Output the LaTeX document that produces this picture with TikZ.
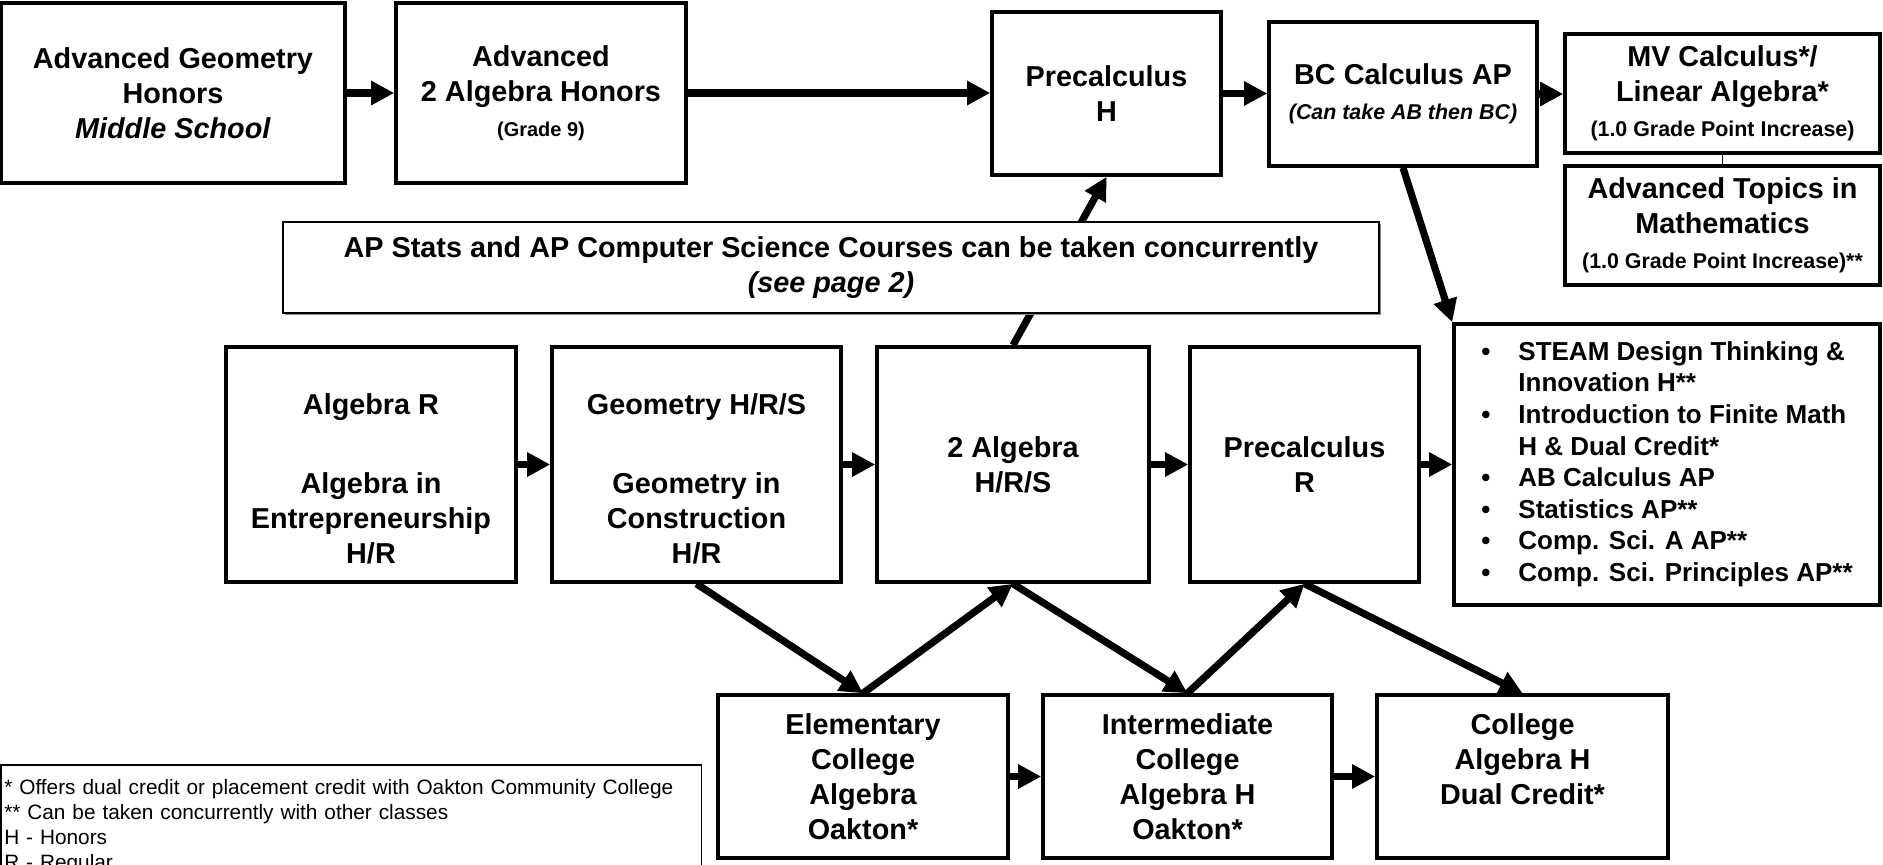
\documentclass[tikz,border=0pt]{standalone}
\usepackage{fontspec}
\setmainfont{Liberation Sans}
\usetikzlibrary{arrows.meta,shadows}

\newcommand{\subfnt}{\fontsize{10.7}{13}\selectfont}
\newcommand{\gradefnt}{\fontsize{10}{12}\selectfont}

\tikzset{
  course/.style={draw, line width=1.8pt, fill=white, align=center, inner sep=2pt,
    font=\bfseries\fontsize{14.4}{17.5}\selectfont},
  notebox/.style={course, line width=1.2pt,
    drop shadow={shadow xshift=1.2pt, shadow yshift=-1.2pt, fill=black!45, opacity=1}},
  legendbox/.style={draw, line width=0.8pt, align=left, anchor=north west,
    inner xsep=1.5pt, inner ysep=7.5pt, font=\fontsize{10.4}{12.5}\selectfont},
  flow/.style={line width=3.6pt, -{Triangle[length=11.5pt,width=11.5pt]}},
}

\begin{document}
\begin{tikzpicture}[x=0.5pt,y=-0.5pt]
  \useasboundingbox (0,0) rectangle (1883,864);

  % top row
  \node[course, minimum width=172pt, minimum height=90pt] (advgeo) at (173,93)
    {Advanced Geometry\\Honors\\\textit{Middle School}};
  \node[course, minimum width=145pt, minimum height=90pt] (advalg) at (541,93)
    {Advanced\\2 Algebra Honors\\{\gradefnt (Grade 9)}};
  \node[course, minimum width=114.5pt, minimum height=81.5pt] (prech) at (1106.5,93.5)
    {Precalculus\\H};
  \node[course, minimum width=134pt, minimum height=72pt] (bccalc) at (1403,94)
    {BC Calculus AP\\{\subfnt\textit{(Can take AB then BC)}}};
  \node[course, minimum width=157.5pt, minimum height=59.5pt] (mvcalc) at (1722.5,93.5)
    {MV Calculus*/\\Linear Algebra*\\{\subfnt (1.0 Grade Point Increase)}};
  \node[course, minimum width=157.5pt, minimum height=59.5pt] (advtop) at (1722.5,225.5)
    {Advanced Topics in\\Mathematics\\{\subfnt (1.0 Grade Point Increase)**}};

  % middle row
  \node[course, minimum width=145pt, minimum height=117.5pt] (algr) at (371,464.5)
    {\rule{0pt}{25pt}Algebra R\\[22pt]Algebra in\\Entrepreneurship\\H/R};
  \node[course, minimum width=144.5pt, minimum height=117.5pt] (geo) at (696.5,464.5)
    {\rule{0pt}{25pt}Geometry H/R/S\\[22pt]Geometry in\\Construction\\H/R};
  \node[course, minimum width=136pt, minimum height=117.5pt] (alg2) at (1013,464.5)
    {2 Algebra\\H/R/S};
  \node[course, minimum width=114.5pt, minimum height=117.5pt] (precr) at (1304.5,464.5)
    {Precalculus\\R};
  \node[course, minimum width=213pt, minimum height=140.5pt,
    font=\bfseries\fontsize{13}{15.8}\selectfont] (electives) at (1667,464.5)
    {\begin{tabular}{@{}l@{\hspace{14pt}}l@{}}
      \textbullet & STEAM Design Thinking \&\\
                  & Innovation H**\\
      \textbullet & Introduction to Finite Math\\
                  & H \& Dual Credit*\\
      \textbullet & AB Calculus AP\\
      \textbullet & Statistics AP**\\
      \textbullet & Comp. Sci. A AP**\\
      \textbullet & Comp. Sci. Principles AP**
    \end{tabular}};

  % bottom row
  \node[course, minimum width=145pt, minimum height=81.5pt] (elem) at (863,776.5)
    {Elementary\\College\\Algebra\\Oakton*};
  \node[course, minimum width=144.5pt, minimum height=81.5pt] (inter) at (1187.5,776.5)
    {Intermediate\\College\\Algebra H\\Oakton*};
  \node[course, minimum width=145.5pt, minimum height=81.5pt] (college) at (1522.5,776.5)
    {College\\Algebra H\\Dual Credit*\\\mbox{}};

  \node[legendbox, text width=347pt] (legend) at (0.5,764)
    {* Offers dual credit or placement credit with Oakton Community College\\{}%
     ** Can be taken concurrently with other classes\\
     H - Honors\\
     R - Regular};

  \draw[flow] (advgeo.east) -- (advalg.west);
  \draw[flow] (advalg.east) -- (advalg.east -| prech.west);
  \draw[flow] (prech.east) -- (prech.east -| bccalc.west);
  \draw[flow] (bccalc.east) -- (bccalc.east -| mvcalc.west);
  \draw[line width=0.6pt] (mvcalc.south) -- (advtop.north);
  \draw[flow] (bccalc.south) -- (electives.north west);

  \draw[flow] (algr.east) -- (geo.west);
  \draw[flow] (geo.east) -- (alg2.west);
  \draw[flow] (alg2.east) -- (precr.west);
  \draw[flow] (precr.east) -- (electives.west);

  \draw[flow] (geo.south) -- (elem.north);
  \draw[flow] (elem.north) -- (alg2.south);
  \draw[flow] (alg2.south) -- (inter.north);
  \draw[flow] (inter.north) -- (precr.south);
  \draw[flow] (precr.south) -- (college.north);
  \draw[flow] (elem.east) -- (inter.west);
  \draw[flow] (inter.east) -- (college.west);

  \draw[flow] (alg2.north) -- (prech.south);
  \node[notebox, minimum width=548pt, minimum height=45.5pt] (apnote) at (831,267.5)
    {AP Stats and AP Computer Science Courses can be taken concurrently\\\textit{(see page 2)}};
\end{tikzpicture}
\end{document}
